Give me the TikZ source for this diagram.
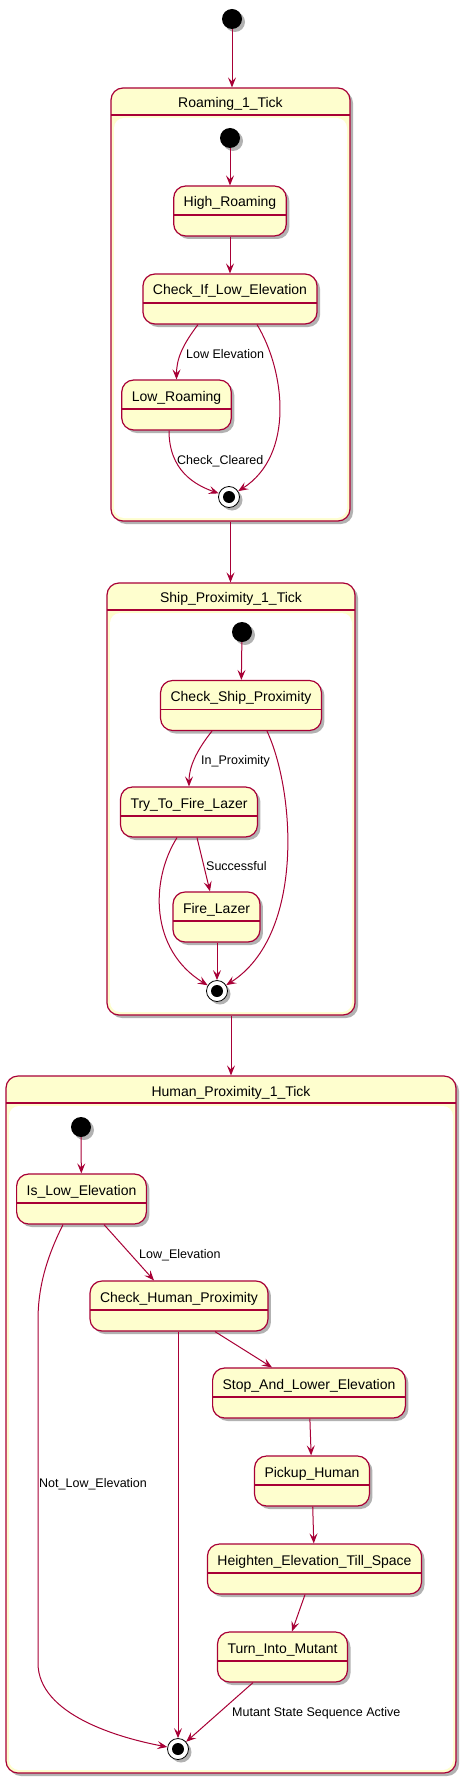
\documentclass[tikz,border=0pt]{standalone}
\usepackage{fontspec}
\setmainfont{Liberation Sans}
\usetikzlibrary{arrows.meta, shadows}

\definecolor{statefill}{HTML}{FEFECE}
\definecolor{stateline}{HTML}{A80036}

\tikzstyle{shadowed} = [drop shadow = {shadow xshift = 3pt, shadow yshift = -3pt, fill = black, opacity = 0.3}]
\tikzstyle{statebox} = [rectangle, rounded corners = 12pt, draw = stateline, fill = statefill, line width = 1.2pt, inner xsep = 10pt, inner ysep = 8pt, text height = 13pt, text depth = 21pt, font = \fontsize{14}{16}\selectfont, shadowed, path picture = {\draw[stateline, line width = 1.2pt] ([yshift=-29pt]path picture bounding box.north west) -- ([yshift=-29pt]path picture bounding box.north east);}]
\tikzstyle{composite} = [rectangle, rounded corners = 12pt, draw = stateline, fill = statefill, line width = 1.2pt, inner sep = 0pt, shadowed, path picture = {\fill[white, rounded corners = 10pt] ([shift={(3pt,-30pt)}]path picture bounding box.north west) rectangle ([shift={(-3pt,3pt)}]path picture bounding box.south east); \draw[stateline, line width = 1.2pt] ([yshift=-27pt]path picture bounding box.north west) -- ([yshift=-27pt]path picture bounding box.north east);}]
\tikzstyle{title} = [font = \fontsize{14}{16}\selectfont, anchor = base, inner sep = 0pt]
\tikzstyle{startdot} = [circle, fill = black, minimum size = 20pt, inner sep = 0pt, shadowed]
\tikzstyle{enddot} = [circle, draw = black, fill = white, line width = 0.8pt, minimum size = 21pt, inner sep = 0pt, shadowed, path picture = {\fill[black] (path picture bounding box.center) circle (6pt);}]
\tikzstyle{arrow} = [stateline, line width = 1pt, -{Stealth[length = 10pt, width = 8pt, inset = 4pt]}]
\tikzstyle{edgelabel} = [font = \fontsize{12.5}{14}\selectfont, anchor = base west, inner sep = 0pt]

\begin{document}
\begin{tikzpicture}[x = 1pt, y = -1pt]

    \useasboundingbox (0,0) rectangle (466,1784);

    \node(init)[startdot] at (232,19) {};

    % Roaming_1_Tick
    \node(roam)[composite, minimum width = 239pt, minimum height = 433pt] at (230.5,304.5) {};
    \node(roamTitle)[title] at ([yshift=-20pt]roam.north) {Roaming\_1\_Tick};
    \node(roamInit)[startdot] at (230,138) {};
    \node(highRoam)[statebox] at (230,211) {High\_Roaming};
    \node(checkLow)[statebox] at (230,299) {Check\_If\_Low\_Elevation};
    \node(lowRoam)[statebox] at (176.5,405) {Low\_Roaming};
    \node(roamEnd)[enddot] at (229,497) {};
    \node(lowElevLbl)[edgelabel] at (186,358) {Low Elevation};
    \node(clearedLbl)[edgelabel] at (177,464) {Check\_Cleared};

    \draw[arrow](init) -- (init |- roam.north);
    \draw[arrow](roamInit) -- (highRoam);
    \draw[arrow](highRoam) -- (checkLow);
    \draw[arrow]([xshift=-32pt]checkLow.south) .. controls +(-16,21) and +(0,-20) .. (lowRoam.north);
    \draw[arrow]([xshift=27pt]checkLow.south) .. controls +(28,46) and +(66,-42) .. (roamEnd);
    \draw[arrow]([xshift=-7.5pt]lowRoam.south) .. controls +(0,40) and +(-34,-12) .. (roamEnd);

    % Ship_Proximity_1_Tick
    \node(ship)[composite, minimum width = 248pt, minimum height = 432pt] at (231,799) {};
    \node(shipTitle)[title] at ([yshift=-20pt]ship.north) {Ship\_Proximity\_1\_Tick};
    \node(shipInit)[startdot] at (242,632) {};
    \node(checkShip)[statebox] at (241,705.5) {Check\_Ship\_Proximity};
    \node(tryFire)[statebox] at (189,812) {Try\_To\_Fire\_Lazer};
    \node(fireLazer)[statebox] at (216.5,917) {Fire\_Lazer};
    \node(shipEnd)[enddot] at (217,991) {};
    \node(proxLbl)[edgelabel] at (201,764) {In\_Proximity};
    \node(successLbl)[edgelabel] at (206,870) {Successful};

    \draw[arrow](roam.south) -- (roam.south |- ship.north);
    \draw[arrow](shipInit) -- (checkShip);
    \draw[arrow]([xshift=-29pt]checkShip.south) .. controls +(-16,20) and +(0,-19) .. (tryFire.north);
    \draw[arrow]([xshift=26pt]checkShip.south) .. controls +(28,60) and +(88,-56) .. (shipEnd);
    \draw[arrow]([xshift=8pt]tryFire.south) -- ([xshift=-6.5pt]fireLazer.north);
    \draw[arrow]([xshift=-12pt]tryFire.south) .. controls +(-27,43) and +(-67,-41) .. (shipEnd);
    \draw[arrow](fireLazer.south -| shipEnd) -- (shipEnd);

    % Human_Proximity_1_Tick
    \node(human)[composite, minimum width = 450pt, minimum height = 697pt] at (231,1424.5) {};
    \node(humanTitle)[title] at ([yshift=-21pt]human.north) {Human\_Proximity\_1\_Tick};
    \node(humanInit)[startdot] at (81,1127) {};
    \node(isLow)[statebox] at (81.5,1199) {Is\_Low\_Elevation};
    \node(checkHuman)[statebox] at (179,1306) {Check\_Human\_Proximity};
    \node(stopLower)[statebox] at (309,1393) {Stop\_And\_Lower\_Elevation};
    \node(pickup)[statebox] at (312,1481) {Pickup\_Human};
    \node(heighten)[statebox] at (314.5,1569) {Heighten\_Elevation\_Till\_Space};
    \node(mutant)[statebox] at (282.5,1657) {Turn\_Into\_Mutant};
    \node(humanEnd)[enddot] at (178,1749) {};
    \node(lowLbl)[edgelabel] at (139,1258) {Low\_Elevation};
    \node(notLowLbl)[edgelabel] at (39,1487) {Not\_Low\_Elevation};
    \node(mutantLbl)[edgelabel] at (232,1716) {Mutant State Sequence Active};
    \coordinate(bendTop) at (38,1320);
    \coordinate(bendLow) at (38,1663);

    \draw[arrow](ship.south) -- (ship.south |- human.north);
    \draw[arrow](humanInit) -- (isLow);
    \draw[arrow]([xshift=22.5pt]isLow.south) -- ([xshift=-25pt]checkHuman.north);
    \draw[arrow]([xshift=-18.5pt]isLow.south) .. controls +(-18,36) and +(0,-30) .. (bendTop) -- (bendLow) .. controls +(0,52) and +(-58,-11) .. (humanEnd);
    \draw[arrow](checkHuman.south -| humanEnd) -- (humanEnd);
    \draw[arrow]([xshift=36pt]checkHuman.south) -- ([xshift=-37pt]stopLower.north);
    \draw[arrow](stopLower) -- (pickup);
    \draw[arrow](pickup) -- (heighten);
    \draw[arrow]([xshift=-9.5pt]heighten.south) -- ([xshift=9.5pt]mutant.north);
    \draw[arrow]([xshift=-29.5pt]mutant.south) -- (humanEnd);

\end{tikzpicture}
\end{document}
